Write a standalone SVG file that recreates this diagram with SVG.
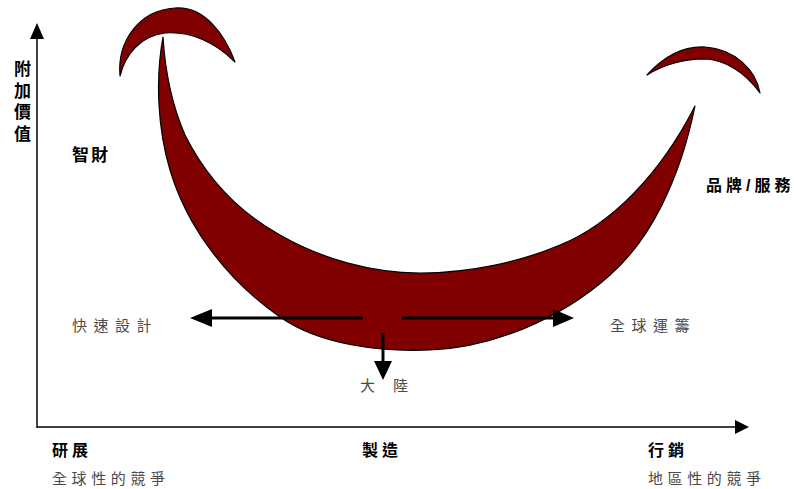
<svg xmlns="http://www.w3.org/2000/svg" width="794" height="489" viewBox="0 0 794 489">
<style>
.shape{fill:#800000;stroke:#000;stroke-width:1.2;stroke-linejoin:round}
.axis{stroke:#000;stroke-width:1.5;fill:none}
.arr{stroke:#000;stroke-width:3;fill:none}
.b{font-family:"Liberation Sans","Noto Sans CJK TC",sans-serif;font-weight:bold;font-size:16px;fill:#000}
.g{font-family:"Liberation Sans","Noto Sans CJK TC",sans-serif;font-size:15px;fill:#4a4a4a}
</style>
<g id="shapes">
<path id="left-crescent" class="shape" d="M120,76 C117,40 140,10 175,8 C205,6 225,35 235,62 C215,42 190,31 165,33 C140,36 125,55 120,76 Z"/>
<path id="main-crescent" class="shape" d="M163,37 C155,80 158,130 170,170 C185,220 220,275 280,317 C320,345 380,352 430,350 C490,348 560,320 610,275 C650,240 680,180 695,106 C660,175 610,225 560,245 C520,262 470,273 420,273 C370,273 320,258 280,235 C235,210 205,175 185,135 C172,105 165,70 163,37 Z"/>
<path id="right-crescent" class="shape" d="M647,75 C665,55 685,46 705,47 C735,49 756,70 760,93 C745,72 725,60 705,59 C680,59 660,67 647,75 Z"/>
</g>
<g id="connectors">
<line class="axis" x1="37" y1="428" x2="37" y2="38"/>
<path d="M30,39 L37,23 L44,39 Z" fill="#000"/>
<line class="axis" x1="37" y1="427" x2="736" y2="427"/>
<path d="M735,420 L749,427 L735,434 Z" fill="#000"/>
<line class="arr" x1="363" y1="318" x2="210" y2="318"/>
<path d="M212,309 L190,318 L212,327 Z" fill="#000"/>
<line class="arr" x1="402" y1="318" x2="555" y2="318"/>
<path d="M553,309 L574,318 L553,327 Z" fill="#000"/>
<line class="arr" x1="383" y1="333" x2="383" y2="362"/>
<path d="M374,361 L383,380 L392,361 Z" fill="#000"/>
</g>
<g id="labels">
<text class="b" x="14" y="75" style="font-size:17px">附</text>
<text class="b" x="14" y="97" style="font-size:17px">加</text>
<text class="b" x="14" y="118" style="font-size:17px">價</text>
<text class="b" x="14" y="140" style="font-size:17px">值</text>
<text class="b" x="72" y="161" style="font-size:17px;letter-spacing:2px">智財</text>
<text class="b" x="706" y="191" style="letter-spacing:4px">品牌/服務</text>
<text class="g" x="72" y="331" style="letter-spacing:6.5px">快速設計</text>
<text class="g" x="610" y="331" style="letter-spacing:6.5px">全球運籌</text>
<text class="g" x="360" y="391" style="letter-spacing:18px">大陸</text>
<text class="b" x="52" y="456" style="letter-spacing:4px">研展</text>
<text class="b" x="362" y="456" style="letter-spacing:4px">製造</text>
<text class="b" x="648" y="456" style="letter-spacing:4px">行銷</text>
<text class="g" x="52" y="484" style="letter-spacing:4.6px">全球性的競爭</text>
<text class="g" x="648" y="484" style="letter-spacing:4.6px">地區性的競爭</text>
</g>
</svg>
